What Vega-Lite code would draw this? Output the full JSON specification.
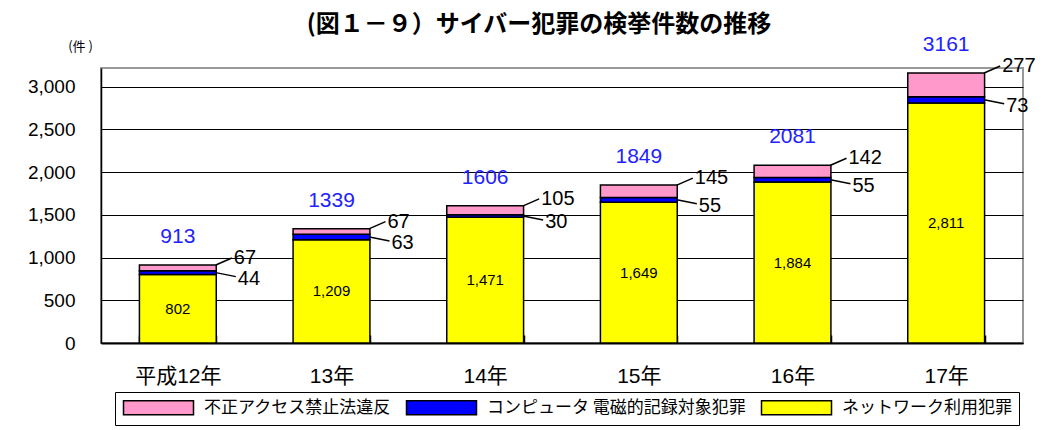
{
  "$schema": "https://vega.github.io/schema/vega-lite/v6.json",
  "width": 922,
  "height": 275,
  "autosize": {"type": "none"},
  "padding": {"left": 101, "top": 68, "right": 24, "bottom": 87},
  "background": "white",
  "title": {
    "text": "(図１－９）サイバー犯罪の検挙件数の推移",
    "font": "Noto Sans CJK JP",
    "fontSize": 24,
    "fontWeight": "bold",
    "color": "black",
    "anchor": "middle",
    "frame": "group",
    "dx": -23,
    "offset": -3
  },
  "config": {
    "view": {"stroke": "#999999", "strokeWidth": 2},
    "axis": {"labelColor": "black", "titleColor": "black"}
  },
  "data": {
    "values": [
      {"year": "平成12年", "type": "ネットワーク利用犯罪", "count": 802, "rank": 1},
      {"year": "平成12年", "type": "コンピュータ 電磁的記録対象犯罪", "count": 44, "rank": 2},
      {"year": "平成12年", "type": "不正アクセス禁止法違反", "count": 67, "rank": 3},
      {"year": "13年", "type": "ネットワーク利用犯罪", "count": 1209, "rank": 1},
      {"year": "13年", "type": "コンピュータ 電磁的記録対象犯罪", "count": 63, "rank": 2},
      {"year": "13年", "type": "不正アクセス禁止法違反", "count": 67, "rank": 3},
      {"year": "14年", "type": "ネットワーク利用犯罪", "count": 1471, "rank": 1},
      {"year": "14年", "type": "コンピュータ 電磁的記録対象犯罪", "count": 30, "rank": 2},
      {"year": "14年", "type": "不正アクセス禁止法違反", "count": 105, "rank": 3},
      {"year": "15年", "type": "ネットワーク利用犯罪", "count": 1649, "rank": 1},
      {"year": "15年", "type": "コンピュータ 電磁的記録対象犯罪", "count": 55, "rank": 2},
      {"year": "15年", "type": "不正アクセス禁止法違反", "count": 145, "rank": 3},
      {"year": "16年", "type": "ネットワーク利用犯罪", "count": 1884, "rank": 1},
      {"year": "16年", "type": "コンピュータ 電磁的記録対象犯罪", "count": 55, "rank": 2},
      {"year": "16年", "type": "不正アクセス禁止法違反", "count": 142, "rank": 3},
      {"year": "17年", "type": "ネットワーク利用犯罪", "count": 2811, "rank": 1},
      {"year": "17年", "type": "コンピュータ 電磁的記録対象犯罪", "count": 73, "rank": 2},
      {"year": "17年", "type": "不正アクセス禁止法違反", "count": 277, "rank": 3}
    ]
  },
  "transform": [
    {"stack": "count", "groupby": ["year"], "sort": [{"field": "rank", "order": "ascending"}], "as": ["y0", "y1"]},
    {"calculate": "(datum.y0 + datum.y1) / 2", "as": "mid"}
  ],
  "layer": [
    {
      "mark": {"type": "bar", "stroke": "black", "strokeWidth": 1.5},
      "encoding": {
        "x": {
          "field": "year", "type": "nominal", "sort": null,
          "scale": {"paddingInner": 0.5, "paddingOuter": 0.25},
          "axis": {
            "title": null, "labelAngle": 0,
            "labelFont": "Liberation Sans, Noto Sans CJK JP", "labelFontSize": 21,
            "labelPadding": 30, "tickBand": "extent", "tickSize": -8,
            "tickColor": "black", "tickWidth": 1.5,
            "domainColor": "black", "domainWidth": 2, "grid": false
          }
        },
        "y": {
          "field": "y0", "type": "quantitative",
          "scale": {"domain": [0, 3220], "nice": false, "zero": true},
          "axis": {
            "values": [0, 500, 1000, 1500, 2000, 2500, 3000],
            "format": ",.0f",
            "labelFont": "Liberation Sans", "labelFontSize": 19, "labelPadding": 26,
            "ticks": false, "domainColor": "black", "domainWidth": 1.5,
            "grid": true, "gridColor": "black", "gridWidth": 1, "gridOpacity": 1,
            "title": "(件 )", "titleFont": "Noto Sans CJK JP", "titleFontSize": 13,
            "titleFontWeight": "normal", "titleAngle": 0, "titleX": -21, "titleY": -22,
            "titleAlign": "center", "titleBaseline": "middle"
          }
        },
        "y2": {"field": "y1"},
        "color": {
          "field": "type", "type": "nominal",
          "scale": {
            "domain": ["不正アクセス禁止法違反", "コンピュータ 電磁的記録対象犯罪", "ネットワーク利用犯罪"],
            "range": ["#FF99CC", "#0000FF", "#FFFF00"]
          },
          "legend": {
            "orient": "none", "legendX": 14, "legendY": 324,
            "direction": "horizontal", "columns": 3, "title": null,
            "strokeColor": "black", "padding": 7,
            "symbolType": "M-5,-1H5V1H-5Z", "symbolSize": 196, "symbolOffset": 28,
            "symbolStrokeColor": "black", "symbolStrokeWidth": 1.5, "symbolOpacity": 1,
            "labelFont": "Noto Sans CJK JP", "labelFontSize": 17, "labelColor": "black",
            "labelOffset": 37, "columnPadding": 12, "labelLimit": 400
          }
        }
      }
    },
    {
      "transform": [{"filter": "datum.rank == 1"}],
      "mark": {"type": "text", "font": "Liberation Sans", "fontSize": 15, "color": "black", "baseline": "middle", "align": "center"},
      "encoding": {
        "x": {"field": "year", "type": "nominal", "sort": null},
        "y": {"field": "mid", "type": "quantitative"},
        "text": {"field": "count", "type": "quantitative", "format": ","}
      }
    },
    {
      "transform": [{"filter": "datum.rank == 2"}],
      "mark": {"type": "text", "font": "Liberation Sans", "fontSize": 20, "color": "black", "baseline": "middle", "align": "left", "dx": 60, "dy": 6},
      "encoding": {
        "x": {"field": "year", "type": "nominal", "sort": null},
        "y": {"field": "mid", "type": "quantitative"},
        "text": {"field": "count", "type": "quantitative", "format": ","}
      }
    },
    {
      "transform": [{"filter": "datum.rank == 3"}],
      "mark": {"type": "text", "font": "Liberation Sans", "fontSize": 20, "color": "black", "baseline": "middle", "align": "left", "dx": 56, "dy": -7},
      "encoding": {
        "x": {"field": "year", "type": "nominal", "sort": null},
        "y": {"field": "y1", "type": "quantitative"},
        "text": {"field": "count", "type": "quantitative", "format": ","}
      }
    },
    {
      "transform": [{"filter": "datum.rank == 3"}],
      "mark": {"type": "text", "font": "Liberation Sans", "fontSize": 21, "color": "#2222FF", "baseline": "middle", "align": "center", "dy": -28},
      "encoding": {
        "x": {"field": "year", "type": "nominal", "sort": null},
        "y": {"field": "y1", "type": "quantitative"},
        "text": {"field": "y1", "type": "quantitative", "format": "d"}
      }
    },
    {
      "transform": [{"filter": "datum.rank == 3"}],
      "mark": {"type": "rule", "color": "black", "strokeWidth": 1.5, "xOffset": 38, "x2Offset": 54, "y2Offset": -7},
      "encoding": {
        "x": {"field": "year", "type": "nominal", "sort": null, "bandPosition": 0.5},
        "x2": {"field": "year", "bandPosition": 0.5},
        "y": {"field": "y1", "type": "quantitative"},
        "y2": {"field": "y1"}
      }
    },
    {
      "transform": [{"filter": "datum.rank == 2"}],
      "mark": {"type": "rule", "color": "black", "strokeWidth": 1.5, "xOffset": 38, "x2Offset": 58, "y2Offset": 4},
      "encoding": {
        "x": {"field": "year", "type": "nominal", "sort": null, "bandPosition": 0.5},
        "x2": {"field": "year", "bandPosition": 0.5},
        "y": {"field": "mid", "type": "quantitative"},
        "y2": {"field": "mid"}
      }
    }
  ]
}
